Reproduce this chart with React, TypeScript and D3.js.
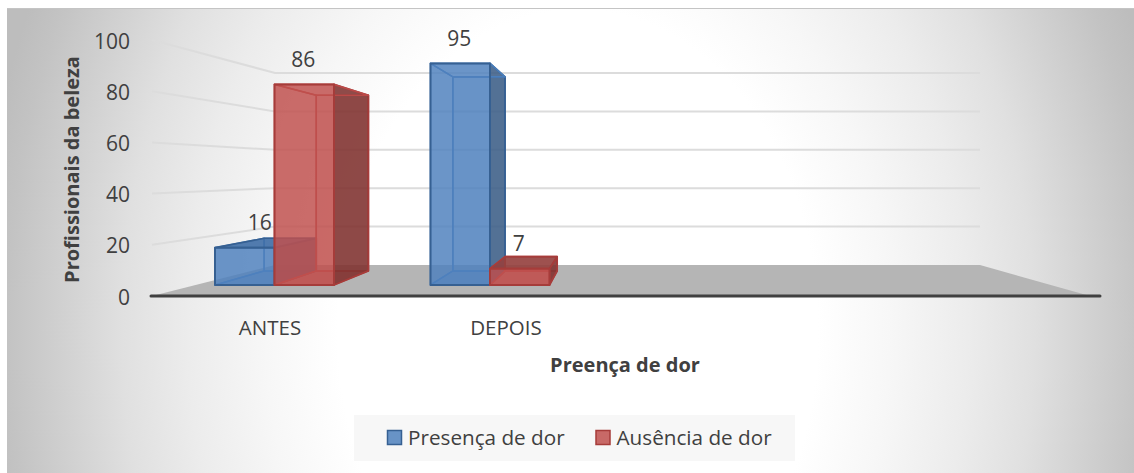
import React from "react";
import * as d3 from "d3";

const categories = ["ANTES", "DEPOIS", "", ""];
const seriesNames = ["Presença de dor", "Ausência de dor"];
const presenca = [16, 95, null, null];
const ausencia = [86, 7, null, null];
const yTicks = [0, 20, 40, 60, 80, 100];
const gridTicks = [20, 40, 60, 80, 100];
const colors = [
  { front: "#4f81bd", dark: "#31557f", side: "#3d5f88", top: "#3f6ea6", edge: "#366092", inner: "#4a7ebb" },
  { front: "#c0504d", dark: "#7d3331", side: "#7f3230", top: "#93403e", edge: "#a63c3a", inner: "#bb4a48" },
];

const W = 1134, H = 473;
const FONT = "'Open Sans', sans-serif";
const y = d3.scaleLinear().domain([0, 100]).range([296, 40]);
const catX = d3.scaleBand<string>().domain(categories.map((c, i) => c + i)).range([152, 1096]);
const groupX = d3.scaleBand<string>().domain(categories.map((c, i) => c + i)).range([166.75, 1028.75]);
const barX = d3.scaleBand<string>().domain(seriesNames).range([0, 119]);

const VY = 172;
const S_BACK = 0.75, S_BAR_FRONT = 0.911, S_BAR_BACK = 0.798;
const WALL_LEFT = 275, WALL_RIGHT = 980;
const project = (x: number, v: number, s: number, vx = 611) => {
  const base = (x - vx) * (s === S_BAR_FRONT ? 1 : s / S_BAR_FRONT) + vx;
  return [base, VY + s * (y(v) - VY)];
};
const poly = (pts: number[][]) => pts.map((p) => p.join(",")).join(" ");

function Bar({ xLeft, v, c }: { xLeft: number; v: number; c: (typeof colors)[number] }) {
  const w = barX.bandwidth();
  const F = S_BAR_FRONT, B = S_BAR_BACK;
  const fl0 = project(xLeft, 0, F), fr0 = project(xLeft + w, 0, F);
  const fl1 = project(xLeft, v, F), fr1 = project(xLeft + w, v, F);
  const bl0 = project(xLeft, 0, B), br0 = project(xLeft + w, 0, B);
  const bl1 = project(xLeft, v, B), br1 = project(xLeft + w, v, B);
  const topVisible = bl1[1] < fl1[1];
  return (
    <g strokeLinejoin="round">
      <polygon points={poly([bl0, br0, br1, bl1])} fill={c.front} fillOpacity={0.12} stroke={c.inner} strokeWidth={1.6} />
      <polygon points={poly([fl0, bl0, br0, fr0])} fill={c.front} fillOpacity={0.35} stroke={c.inner} strokeWidth={1.4} />
      <polygon points={poly([fl0, fl1, bl1, bl0])} fill="none" stroke={c.inner} strokeWidth={1.4} />
      <polygon points={poly([fr0, fr1, br1, br0])} fill={c.side} fillOpacity={0.88} stroke={c.edge} strokeWidth={1.8} />
      <polygon points={poly([fl1, fr1, br1, bl1])} fill={topVisible ? c.top : "none"} fillOpacity={0.9} stroke={topVisible ? c.edge : c.inner} strokeWidth={1.6} />
      <rect x={fl1[0]} y={fl1[1]} width={fr1[0] - fl1[0]} height={fl0[1] - fl1[1]} fill={c.front} fillOpacity={0.84} stroke={c.edge} strokeWidth={2} />
    </g>
  );
}

export default function App() {
  const floorY = y(0);
  const backY0 = VY + S_BACK * (floorY - VY);
  const floor = [[152, floorY], [WALL_LEFT, backY0], [WALL_RIGHT, backY0], [1090, floorY]];
  const series = [presenca, ausencia];
  const labelShift: Record<string, number> = { "0-0": 16 };
  return (
    <svg width={W} height={H} viewBox={`0 0 ${W} ${H}`} style={{ position: "absolute", left: 0, top: 0, display: "block" }}>
      <defs>
        <radialGradient id="bg" gradientUnits="userSpaceOnUse" cx={0} cy={0} r={1} gradientTransform="translate(578,330) scale(600,800)">
          <stop offset="0" stopColor="#ffffff" />
          <stop offset="0.4" stopColor="#ffffff" />
          <stop offset="0.52" stopColor="#f7f7f7" />
          <stop offset="0.65" stopColor="#ececec" />
          <stop offset="0.76" stopColor="#e0e0e0" />
          <stop offset="0.95" stopColor="#c3c3c3" />
          <stop offset="1" stopColor="#bdbdbd" />
        </radialGradient>
      </defs>
      <rect x={0} y={0} width={W} height={H} fill="#fff" />
      <rect x={7} y={8} width={W - 7} height={H - 8} fill="url(#bg)" />
      <line x1={7} x2={W} y1={8.5} y2={8.5} stroke="#c4c4c4" strokeWidth={1} />

      {gridTicks.map((t) => {
        const by = VY + S_BACK * (y(t) - VY);
        return (
          <polyline key={t} stroke="#dcdcdc" strokeWidth={2} fill="none" points={poly([[152, y(t)], [WALL_LEFT, by], [WALL_RIGHT, by]])} />
        );
      })}
      <polygon points={poly(floor)} fill="#b5b5b5" />
      <line x1={151} x2={1100} y1={floorY} y2={floorY} stroke="#404040" strokeWidth={3} strokeLinecap="round" />

      {categories.map((cat, i) =>
        series.map((vals, s) => {
          const v = vals[i];
          if (v == null) return null;
          const xLeft = groupX(cat + i)! + (groupX.bandwidth() - 119) / 2 + barX(seriesNames[s])!;
          return <Bar key={`${i}-${s}`} xLeft={xLeft} v={v} c={colors[s]} />;
        })
      )}

      <g fontFamily={FONT} fontSize={21} fill="#404040" textAnchor="middle">
        {categories.map((cat, i) =>
          series.map((vals, s) => {
            const v = vals[i];
            if (v == null) return null;
            const xLeft = groupX(cat + i)! + (groupX.bandwidth() - 119) / 2 + barX(seriesNames[s])!;
            const top = project(xLeft, v, S_BAR_FRONT);
            return (
              <text key={`${i}-${s}`} x={xLeft + barX.bandwidth() / 2 - 1 + (labelShift[`${i}-${s}`] ?? 0)} y={top[1] - 17.5}>
                {v}
              </text>
            );
          })
        )}
      </g>

      <g fontFamily={FONT} fontSize={21} fill="#404040" textAnchor="end">
        {yTicks.map((t) => (
          <text key={t} x={130} y={y(t) + 8.5}>{t}</text>
        ))}
      </g>
      <g fontFamily={FONT} fontSize={20.5} fill="#404040" textAnchor="middle">
        {categories.map((cat, i) => (cat ? <text key={i} x={catX(cat + i)! + catX.bandwidth() / 2} y={335}>{cat}</text> : null))}
      </g>
      <text x={625} y={372} textAnchor="middle" fontFamily={FONT} fontSize={20} fontWeight={700} fill="#404040">Preença de dor</text>
      <text transform="translate(79,169.5) rotate(-90)" textAnchor="middle" fontFamily={FONT} fontSize={20} fontWeight={700} fill="#404040">Profissionais da beleza</text>

      <rect x={354} y={415} width={441} height={46} fill="#f7f7f7" />
      {seriesNames.map((name, i) => {
        const lx = i === 0 ? 387 : 595.5;
        return (
          <g key={name}>
            <rect x={lx + 0.5} y={430.5} width={14} height={14} fill={colors[i].front} fillOpacity={0.85} stroke={colors[i].edge} strokeWidth={1.5} />
            <text x={lx + 21} y={445} fontFamily={FONT} fontSize={20.7} fill="#404040">{name}</text>
          </g>
        );
      })}
    </svg>
  );
}
